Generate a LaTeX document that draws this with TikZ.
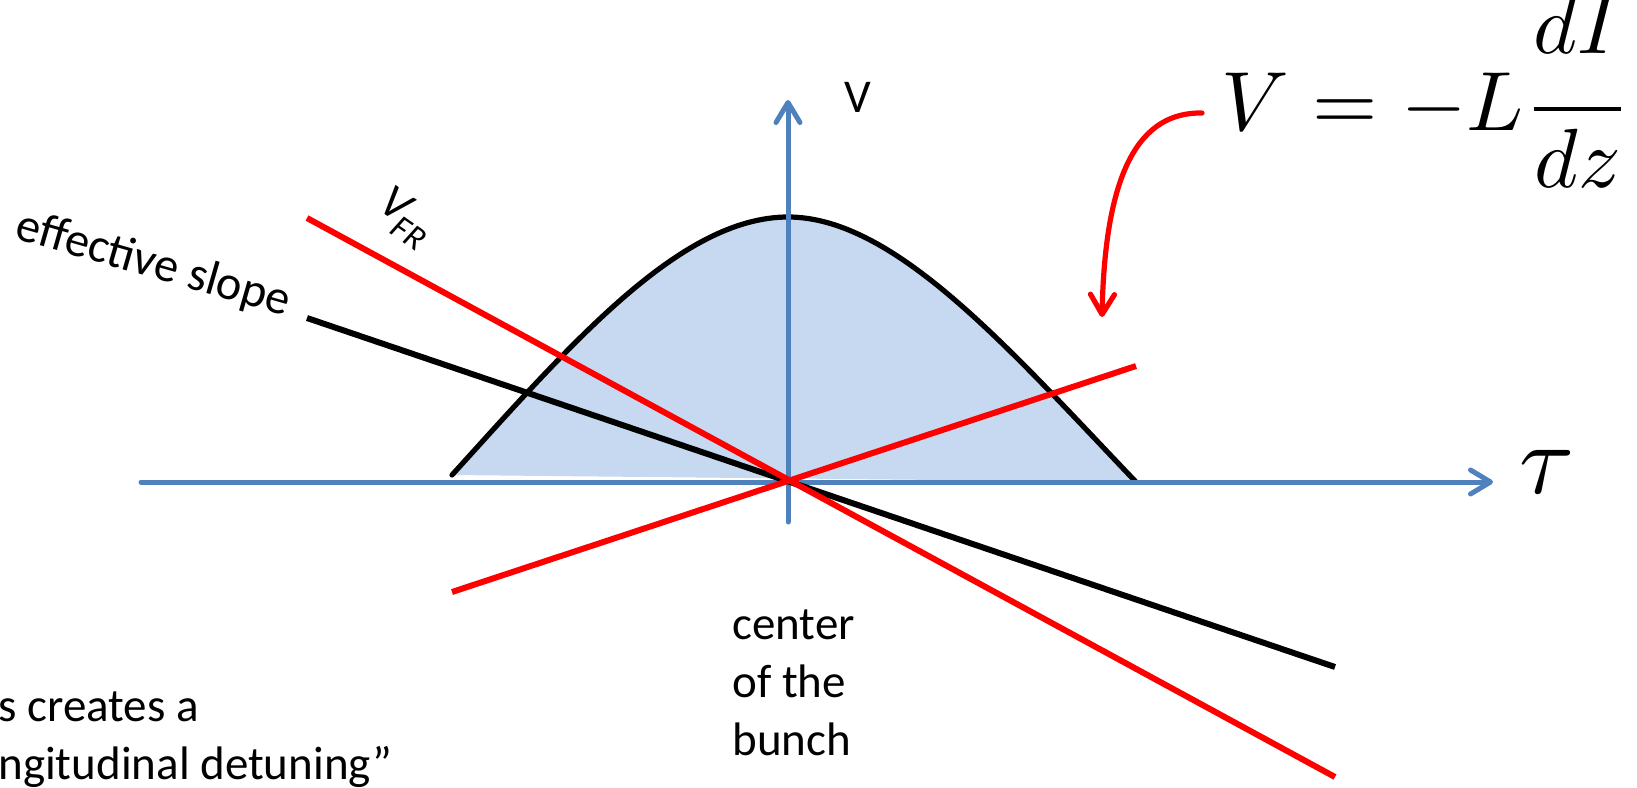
\documentclass[tikz,border=0pt]{standalone}
\usepackage{fontspec}
\setmainfont{Carlito}
\usetikzlibrary{arrows.meta}
\definecolor{axisblue}{HTML}{4F81BD}
\definecolor{bunchfill}{HTML}{C6D9F0}
\definecolor{pptred}{HTML}{FF0000}
\tikzset{
  axisline/.style={draw=axisblue, line width=2.5pt, line cap=round,
    -{Straight Barb[length=10pt,width=12pt,round]}},
  redline/.style={draw=pptred, line width=3pt},
  blackline/.style={draw=black, line width=3pt},
  bellline/.style={draw=black, line width=2.6pt, line cap=round},
  redarrow/.style={draw=pptred, line width=2.6pt, line cap=round,
    -{Straight Barb[length=10pt,width=12pt,round]}},
  lbl/.style={inner sep=0pt, font=\fontsize{23.5}{29}\selectfont},
}
\begin{document}
\begin{tikzpicture}[x=0.5pt,y=-0.5pt]
\useasboundingbox (0,0) rectangle (1637,787);
% bunch
\fill[bunchfill] (452,475) .. controls (570,345) and (680,217) .. (788,217)
   .. controls (895,217) and (1010,350) .. (1136,482) -- cycle;
\draw[bellline] (452,475) .. controls (570,345) and (680,217) .. (788,217)
   .. controls (895,217) and (1010,350) .. (1136,482);
% axes
\coordinate (hx0) at (141,482);
\coordinate (hx1) at (1493,482);
\coordinate (vy0) at (788,522);
\coordinate (vy1) at (788,100);
\draw[axisline] (hx0) -- (hx1);
\draw[axisline] (vy0) -- (vy1);
% lines through the centre
\coordinate (c) at (788,481);
\coordinate (r1a) at (307,218);
\coordinate (r1b) at (1335,777);
\coordinate (ba) at (307,318);
\coordinate (bb) at (1335,667);
\coordinate (r2a) at (452,592);
\coordinate (r2b) at (1136,366);
\draw[blackline] (ba) -- (bb);
\draw[redline] (r1a) -- (r1b);
\draw[redline] (r2a) -- (r2b);
% formula and arrow
\node[inner sep=0pt, anchor=base west, scale=4.2] (formula) at (1220,130)
  {$\displaystyle V=-L\frac{\raisebox{2.4pt}{$dI$}}{dz}$};
\coordinate (ca) at (1202,113);
\coordinate (cb) at (1102,317);
\draw[redarrow] (ca) .. controls (1140,112) and (1105,170) .. (cb);
% labels
\node[inner sep=0pt, scale=5] (tau) at (1547,472) {$\tau$};
\node[lbl] (vlab) at (858,97) {V};
\node[lbl, rotate=-35] (vfr) at (405,218) {\itshape V\kern-0.05em\raisebox{-0.28em}{\fontsize{17}{17}\selectfont\itshape FR}};
\node[lbl, rotate=-16, anchor=base west, font=\fontsize{24.2}{29}\selectfont] (eff) at (13,238) {effective slope};
\node[lbl, anchor=base west, align=left] (cen) at (732,755) {center\\of the\\bunch};
\node[lbl, anchor=base west, align=left] (det) at (-2,779) {s creates a\\ngitudinal detuning”};
\end{tikzpicture}
\end{document}
